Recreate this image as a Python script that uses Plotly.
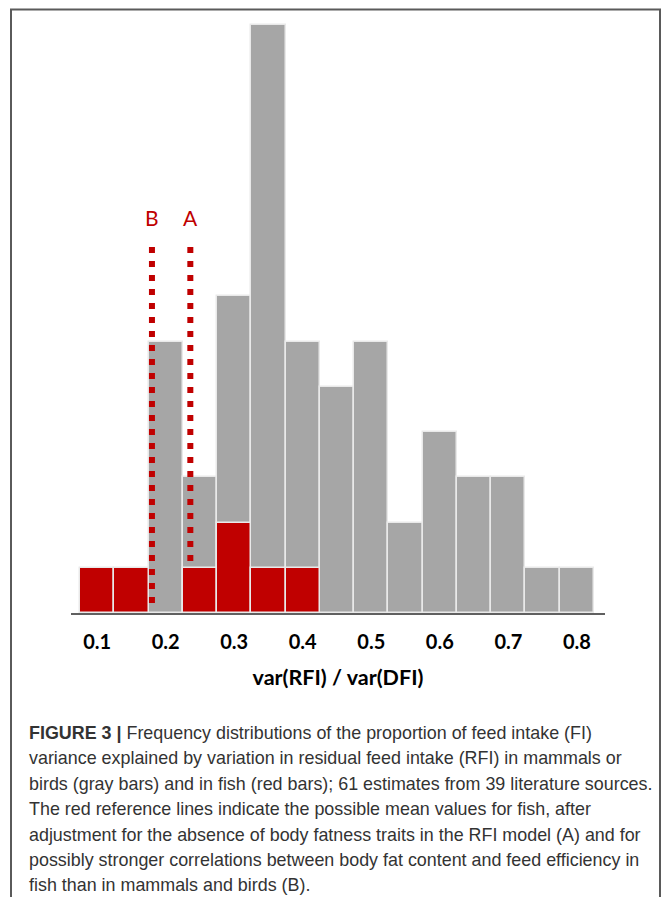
import plotly.graph_objects as go

# ---- data ----
bin_centers = [0.10, 0.15, 0.20, 0.25, 0.30, 0.35, 0.40, 0.45,
               0.50, 0.55, 0.60, 0.65, 0.70, 0.75, 0.80]
gray_counts = [0, 0, 6, 3, 7, 13, 6, 5, 6, 2, 4, 3, 3, 1, 1]   # mammals / birds
red_counts = [1, 1, 0, 1, 2, 1, 1, 0, 0, 0, 0, 0, 0, 0, 0]     # fish
tick_values = [0.1, 0.2, 0.3, 0.4, 0.5, 0.6, 0.7, 0.8]
tick_labels = ["0.1", "0.2", "0.3", "0.4", "0.5", "0.6", "0.7", "0.8"]
ref_names = ["B", "A"]
ref_x = [0.180, 0.236]
ref_top = [8.09, 8.09]
ref_bottom = [0.13, 1.04]
ref_label_y = 8.75
x_title = "var(RFI) / var(DFI)"
caption_lines = [
    "<b>FIGURE 3 |</b> Frequency distributions of the proportion of feed intake (FI)",
    "variance explained by variation in residual feed intake (RFI) in mammals or",
    "birds (gray bars) and in fish (red bars); 61 estimates from 39 literature sources.",
    "The red reference lines indicate the possible mean values for fish, after",
    "adjustment for the absence of body fatness traits in the RFI model (A) and for",
    "possibly stronger correlations between body fat content and feed efficiency in",
    "fish than in mammals and birds (B).",
]

# ---- layout geometry (figure pixels; page adds an 8px body margin) ----
W, H = 662, 889
ML, MR, MT, MB = 63, 65, 1, 284
PW, PH = W - ML - MR, H - MT - MB
UNIT_PX = 45.23  # pixels per count


def px(x):
    return (x - ML) / PW


def py(y):
    return (H - MB - y) / PH


GRAY = "#a6a6a6"
RED = "#c00000"
EDGE = "#e9e9e9"

fig = go.Figure()
fig.add_bar(x=bin_centers, y=gray_counts, width=0.05,
            marker=dict(color=GRAY, line=dict(color=EDGE, width=1.5)),
            showlegend=False, hoverinfo="x+y")
fig.add_bar(x=bin_centers, y=[v if v else None for v in red_counts], width=0.05,
            marker=dict(color=RED, line=dict(color=EDGE, width=1.5)),
            showlegend=False, hoverinfo="x+y")

for name, rx, top, bot in zip(ref_names, ref_x, ref_top, ref_bottom):
    fig.add_scatter(x=[rx, rx], y=[top, bot], mode="lines",
                    line=dict(color=RED, width=6, dash="6px,8px"),
                    showlegend=False, hoverinfo="skip")
    fig.add_annotation(x=rx, y=ref_label_y, xref="x", yref="y", text=name,
                       showarrow=False, xanchor="center", yanchor="middle",
                       font=dict(family="Lato, Carlito, sans-serif", size=21, color=RED))

for i, line in enumerate(caption_lines):
    fig.add_annotation(x=px(19), y=py(725 + i * 25.4), xref="paper", yref="paper",
                       text=line, showarrow=False, xanchor="left", yanchor="middle",
                       align="left",
                       font=dict(family="Liberation Sans, Arial, sans-serif",
                                 size=17.9, color="#333333"))

# outer frame
fig.add_shape(type="rect", xref="paper", yref="paper",
              x0=px(3), x1=px(652), y0=py(930), y1=py(1.5),
              line=dict(color="#5a5a5a", width=2), fillcolor="rgba(0,0,0,0)",
              layer="below")

fig.update_layout(
    width=W, height=H,
    margin=dict(l=ML, r=MR, t=MT, b=MB, autoexpand=False),
    paper_bgcolor="white", plot_bgcolor="white",
    barmode="overlay", bargap=0,
    xaxis=dict(range=[0.0619, 0.841], showgrid=False, zeroline=False,
               showline=True, linecolor="#606060", linewidth=2,
               tickvals=tick_values, ticktext=tick_labels,
               ticks="outside", ticklen=10, tickcolor="rgba(0,0,0,0)",
               tickfont=dict(family="Lato, Carlito, sans-serif", size=20,
                             color="black", weight="bold"),
               title=dict(text=x_title, standoff=18,
                          font=dict(family="Lato, Carlito, sans-serif", size=21.5,
                                    color="black", weight="bold"))),
    yaxis=dict(range=[0, PH / UNIT_PX], visible=False, showgrid=False,
               zeroline=False),
)

fig.write_html("out.html")
